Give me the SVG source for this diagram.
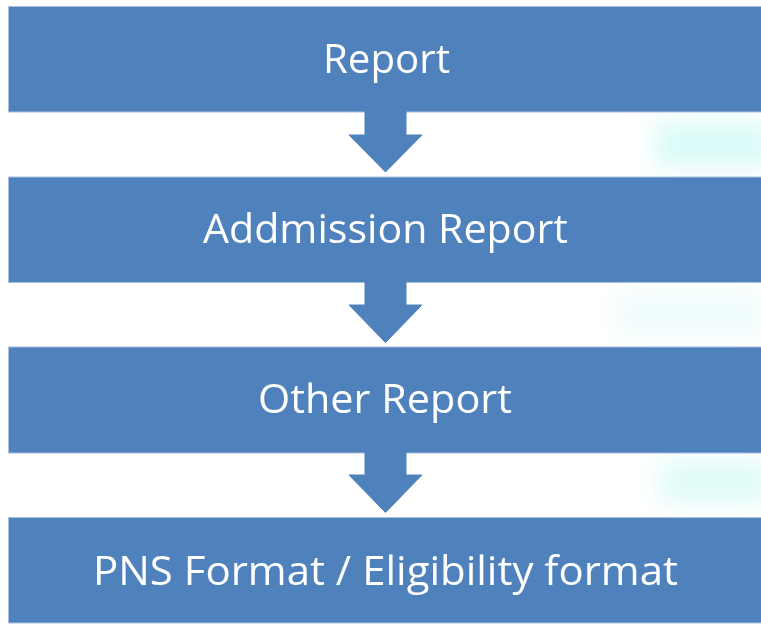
<svg xmlns="http://www.w3.org/2000/svg" width="761" height="625" viewBox="0 0 761 625">
  <defs>
    <style>
      .box { fill: #4F81BD; stroke: #A9BFDD; stroke-width: 1; }
      .arrow { fill: #4F81BD; stroke: #4F81BD; stroke-width: 1; stroke-linejoin: round; }
      .label { font-family: "Open Sans", "Noto Sans", sans-serif; font-size: 41px; fill: #FFFFFF; text-anchor: middle; }
    </style>
    <filter id="blur" x="-50%" y="-50%" width="200%" height="200%">
      <feGaussianBlur stdDeviation="12"/>
    </filter>
  </defs>
  <rect x="0" y="0" width="761" height="625" fill="#FFFFFF"/>
  <g id="background" filter="url(#blur)">
    <rect x="655" y="122" width="120" height="45" fill="#CFFAF6" opacity="0.8"/>
    <rect x="615" y="292" width="150" height="45" fill="#E4FCF9" opacity="0.55"/>
    <rect x="660" y="462" width="110" height="40" fill="#D2FAF6" opacity="0.75"/>
  </g>
  <g id="node-report">
    <rect class="box" x="8.5" y="6.5" width="760" height="105.5"/>
    <text class="label" x="386.5" y="73" textLength="127" lengthAdjust="spacingAndGlyphs">Report</text>
  </g>
  <g id="node-addmission-report">
    <rect class="box" x="8.5" y="177" width="760" height="105.5"/>
    <text class="label" x="385.5" y="243" textLength="365" lengthAdjust="spacingAndGlyphs">Addmission Report</text>
  </g>
  <g id="node-other-report">
    <rect class="box" x="8.5" y="347" width="760" height="106"/>
    <text class="label" x="385" y="413" textLength="254" lengthAdjust="spacingAndGlyphs">Other Report</text>
  </g>
  <g id="node-pns-format">
    <rect class="box" x="8.5" y="517.5" width="760" height="105.5"/>
    <text class="label" x="385.5" y="585" textLength="585" lengthAdjust="spacingAndGlyphs">PNS Format / Eligibility format</text>
  </g>
  <g id="connectors">
    <polygon class="arrow" points="365,110 406,110 406,135 422,135 385.5,172 349,135 365,135"/>
    <polygon class="arrow" points="365,281 406,281 406,305 422,305 385.5,342.5 349,305 365,305"/>
    <polygon class="arrow" points="365,451 406,451 406,475 422,475 385.5,512.5 349,475 365,475"/>
  </g>
</svg>
